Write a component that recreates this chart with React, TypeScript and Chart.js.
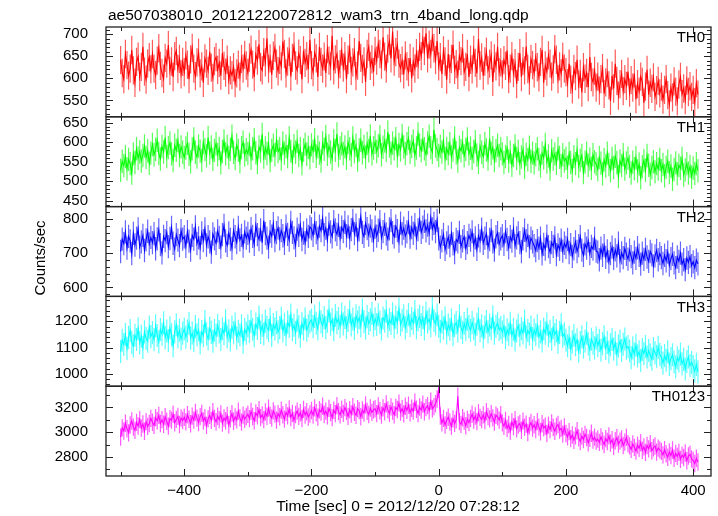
import { useEffect, useRef } from "react";
import { Chart, registerables } from "chart.js";

Chart.register(...registerables);

const TITLE = "ae507038010_20121220072812_wam3_trn_4band_long.qdp";
const X_TITLE = "Time [sec] 0 = 2012/12/20 07:28:12";
const Y_TITLE = "Counts/sec";

const T_START = -500;
const T_BIN = 2.5;

const panelNames = ["TH0", "TH1", "TH2", "TH3", "TH0123"];
const colors = ["#ff0000", "#00ff00", "#0000ff", "#00ffff", "#ff00ff"];
const errColors = [
  "rgba(255,0,0,0.65)",
  "rgba(0,255,0,0.65)",
  "rgba(0,0,255,0.6)",
  "rgba(0,255,255,0.65)",
  "rgba(255,0,255,0.65)",
];

const th0 = [
  641, 612, 598, 655, 630, 606, 622, 664, 618, 590, 637, 649, 603, 626, 671, 615, 597, 633, 648, 620,
  655, 622, 607, 640, 668, 628, 612, 599, 646, 633, 675, 617, 638, 603, 650, 662, 621, 644, 609, 637,
  614, 652, 631, 598, 643, 669, 622, 605, 636, 658, 611, 627, 590, 645, 633, 617, 660, 624, 601, 639,
  648, 619, 635, 606, 657, 628, 613, 642, 596, 618, 607, 625, 589, 611, 631, 604, 644, 622, 653, 629,
  612, 647, 665, 631, 603, 654, 640, 677, 625, 618, 659, 636, 690, 622, 645, 608, 651, 669, 633, 616,
  642, 627, 683, 655, 611, 638, 660, 604, 646, 672, 629, 618, 656, 641, 598, 663, 635, 650, 621, 687,
  630, 614, 658, 645, 603, 671, 637, 622, 649, 612, 666, 640, 627, 696, 618, 643, 655, 609, 632, 661,
  624, 650, 598, 642, 668, 617, 636, 659, 605, 629, 684, 646, 621, 638, 592, 655, 671, 628, 643, 614,
  662, 640, 678, 655, 631, 693, 649, 622, 667, 684, 645, 706, 638, 659, 676, 633, 623, 640, 609, 652,
  627, 614, 646, 600, 638, 622, 657, 631, 671, 650, 688, 662, 702, 645, 676, 655, 693, 668, 641, 684,
  627, 648, 610, 663, 638, 597, 655, 621, 644, 676, 619, 632, 608, 651, 639, 668, 614, 626, 655, 603,
  642, 620, 664, 635, 611, 689, 629, 647, 606, 638, 660, 618, 633, 652, 592, 645, 627, 671, 614, 636,
  609, 641, 628, 663, 598, 622, 650, 612, 634, 587, 626, 657, 603, 639, 618, 672, 621, 595, 644, 630,
  611, 648, 625, 602, 637, 664, 590, 629, 615, 652, 633, 604, 620, 666, 642, 598, 627, 611, 649, 622,
  614, 589, 633, 597, 575, 621, 605, 642, 586, 610, 568, 625, 599, 612, 580, 648, 603, 591, 617, 579,
  604, 572, 598, 623, 565, 591, 612, 584, 549, 606, 577, 633, 594, 561, 587, 610, 571, 598, 583, 615,
  568, 596, 579, 611, 553, 587, 570, 604, 592, 545, 581, 619, 563, 590, 576, 602, 558, 573, 594, 566,
  581, 552, 574, 598, 562, 541, 579, 557, 593, 570, 548, 586, 603, 564, 577, 551, 595, 569, 582, 558,
  574, 546, 589, 563,
];

const th1 = [
  528, 551, 540, 563, 532, 556, 545, 521, 570, 548, 583, 559, 575, 552, 566, 590, 561, 578, 546, 572,
  594, 568, 582, 605, 571, 557, 589, 575, 612, 563, 586, 598, 570, 553, 592, 579, 604, 566, 588, 574,
  561, 585, 597, 569, 550, 583, 608, 574, 562, 590, 577, 553, 599, 581, 565, 612, 572, 588, 556, 579,
  596, 568, 584, 547, 576, 603, 570, 589, 561, 582, 615, 574, 558, 593, 579, 550, 586, 600, 567, 581,
  571, 594, 559, 583, 606, 573, 548, 588, 577, 620, 562, 585, 571, 597, 553, 579, 592, 568, 605, 576,
  584, 557, 598, 572, 589, 563, 611, 577, 550, 591, 574, 602, 566, 583, 545, 580, 595, 569, 587, 560,
  593, 577, 606, 564, 588, 572, 552, 598, 582, 614, 569, 590, 575, 557, 603, 579, 621, 566, 585, 596,
  571, 588, 559, 600, 583, 567, 611, 576, 592, 554, 580, 605, 573, 589, 562, 597, 578, 616, 570, 585,
  600, 576, 591, 614, 568, 587, 603, 579, 626, 590, 572, 598, 583, 609, 565, 594, 580, 617, 588, 571,
  596, 610, 574, 589, 603, 567, 585, 621, 592, 578, 606, 583, 569, 598, 615, 586, 574, 632, 590, 581,
  566, 589, 575, 603, 558, 584, 571, 596, 562, 580, 611, 573, 552, 587, 578, 599, 565, 582, 608, 570,
  585, 559, 576, 601, 567, 548, 590, 574, 563, 596, 580, 557, 609, 571, 586, 553, 578, 592, 566, 583,
  570, 548, 563, 585, 552, 574, 541, 566, 590, 558, 577, 545, 562, 581, 536, 569, 555, 587, 551, 572,
  547, 568, 583, 556, 539, 572, 560, 594, 549, 565, 531, 578, 557, 570, 546, 583, 561, 540, 568, 552,
  559, 536, 571, 548, 527, 563, 545, 580, 538, 554, 566, 522, 549, 572, 541, 557, 533, 568, 550, 544,
  530, 561, 546, 519, 555, 539, 572, 543, 527, 558, 535, 564, 548, 512, 552, 540, 568, 531, 547, 559,
  538, 521, 549, 532, 560, 526, 544, 509, 537, 553, 528, 566, 541, 518, 535, 550, 524, 545, 531, 556,
  527, 543, 514, 536, 551, 522, 539, 505, 530, 547, 519, 541, 533, 558, 516, 529, 545, 521, 538, 511,
  534, 520, 545, 527,
];

const th2 = [
  705, 741, 728, 762, 715, 749, 736, 699, 758, 724, 744, 771, 718, 733, 752, 708, 739, 764, 727, 746,
  731, 757, 713, 742, 768, 725, 701, 749, 737, 760, 719, 743, 775, 729, 712, 754, 738, 722, 766, 741,
  748, 720, 763, 735, 709, 752, 741, 777, 728, 745, 716, 759, 737, 771, 724, 748, 733, 703, 756, 742,
  729, 765, 746, 718, 754, 781, 736, 723, 759, 740, 714, 767, 748, 731, 775, 739, 752, 721, 762, 744,
  758, 735, 772, 749, 726, 781, 754, 740, 768, 731, 795, 757, 744, 718, 763, 750, 786, 737, 760, 774,
  742, 766, 751, 729, 779, 755, 738, 790, 761, 745, 723, 770, 752, 783, 740, 759, 731, 768, 749, 777,
  771, 752, 788, 760, 743, 779, 766, 801, 754, 773, 739, 785, 762, 748, 792, 768, 755, 781, 744, 776,
  763, 790, 751, 777, 745, 769, 796, 757, 782, 740, 768, 806, 761, 749, 787, 772, 753, 779, 765, 738,
  776, 750, 767, 792, 745, 763, 784, 756, 741, 771, 795, 760, 748, 779, 766, 735, 788, 757, 773, 750,
  762, 789, 747, 775, 758, 783, 744, 769, 797, 761, 776, 793, 765, 782, 758, 804, 771, 787, 763, 796,
  742, 718, 736, 755, 711, 730, 747, 722, 758, 727, 702, 740, 733, 761, 719, 736, 748, 714, 731, 752,
  738, 762, 724, 745, 711, 751, 736, 770, 729, 744, 757, 718, 740, 766, 733, 709, 748, 760, 727, 742,
  751, 726, 763, 740, 716, 748, 735, 771, 722, 745, 759, 731, 705, 742, 767, 737, 752, 719, 744, 733,
  722, 708, 737, 715, 744, 698, 726, 712, 750, 719, 703, 731, 720, 745, 696, 724, 711, 738, 706, 729,
  717, 740, 702, 725, 691, 713, 733, 705, 722, 748, 709, 694, 727, 715, 736, 699, 720, 712, 743, 706,
  703, 681, 715, 694, 722, 688, 707, 675, 699, 718, 685, 710, 692, 729, 678, 701, 687, 714, 697, 683,
  709, 690, 672, 703, 685, 716, 694, 668, 700, 682, 711, 689, 676, 705, 695, 663, 692, 708, 681, 699,
  687, 670, 694, 678, 703, 665, 684, 697, 672, 658, 689, 676, 700, 668, 681, 652, 686, 673, 690, 664,
  675, 658, 680, 669,
];

const th3 = [
  1085, 1128, 1112, 1150, 1097, 1139, 1165, 1120, 1106, 1147, 1131, 1172, 1118, 1143, 1101, 1160, 1135, 1124, 1178, 1142,
  1157, 1130, 1183, 1146, 1122, 1169, 1151, 1194, 1138, 1163, 1127, 1175, 1149, 1106, 1160, 1187, 1142, 1166, 1133, 1155,
  1171, 1140, 1163, 1192, 1136, 1155, 1127, 1180, 1149, 1168, 1118, 1161, 1145, 1199, 1152, 1133, 1174, 1158, 1124, 1166,
  1147, 1185, 1160, 1131, 1172, 1153, 1203, 1141, 1164, 1129, 1178, 1157, 1190, 1136, 1162, 1148, 1183, 1121, 1169, 1155,
  1182, 1161, 1199, 1170, 1145, 1190, 1173, 1216, 1158, 1184, 1152, 1201, 1177, 1165, 1208, 1146, 1188, 1171, 1195, 1160,
  1176, 1213, 1163, 1189, 1150, 1197, 1181, 1224, 1168, 1185, 1157, 1204, 1179, 1143, 1192, 1171, 1210, 1166, 1183, 1198,
  1205, 1180, 1219, 1193, 1171, 1232, 1198, 1184, 1214, 1176, 1201, 1240, 1189, 1207, 1168, 1222, 1195, 1211, 1181, 1228,
  1190, 1215, 1176, 1203, 1236, 1186, 1209, 1173, 1221, 1197, 1214, 1182, 1243, 1199, 1174, 1218, 1192, 1206, 1230, 1185,
  1210, 1188, 1225, 1196, 1170, 1213, 1201, 1238, 1182, 1207, 1192, 1229, 1178, 1216, 1195, 1246, 1187, 1204, 1221, 1175,
  1200, 1226, 1184, 1211, 1193, 1237, 1176, 1205, 1219, 1188, 1214, 1171, 1232, 1197, 1209, 1183, 1250, 1203, 1190, 1224,
  1181, 1162, 1198, 1174, 1213, 1156, 1187, 1170, 1205, 1149, 1183, 1195, 1163, 1221, 1177, 1158, 1192, 1169, 1208, 1180,
  1166, 1195, 1172, 1151, 1189, 1210, 1164, 1183, 1141, 1178, 1199, 1160, 1186, 1172, 1217, 1155, 1181, 1193, 1168, 1176,
  1159, 1182, 1138, 1168, 1151, 1193, 1146, 1170, 1129, 1163, 1185, 1147, 1172, 1156, 1201, 1140, 1165, 1152, 1178, 1134,
  1167, 1149, 1183, 1141, 1160, 1125, 1171, 1155, 1190, 1145, 1162, 1132, 1176, 1150, 1164, 1121, 1158, 1187, 1143, 1153,
  1128, 1107, 1139, 1095, 1122, 1146, 1111, 1130, 1086, 1119, 1141, 1102, 1125, 1155, 1114, 1093, 1132, 1117, 1099, 1136,
  1108, 1127, 1090, 1115, 1141, 1097, 1120, 1083, 1111, 1131, 1094, 1118, 1075, 1106, 1125, 1089, 1113, 1133, 1098, 1104,
  1087, 1062, 1099, 1075, 1109, 1068, 1084, 1051, 1093, 1077, 1104, 1064, 1089, 1072, 1056, 1096, 1080, 1067, 1101, 1074,
  1063, 1041, 1070, 1052, 1084, 1036, 1058, 1073, 1045, 1027, 1061, 1049, 1075, 1038, 1055, 1019, 1047, 1064, 1032, 1044,
  1028, 1011, 1036, 1008,
];

const th0123 = [
  2960, 3035, 3010, 3072, 3028, 2995, 3058, 3090, 3041, 3015, 3079, 3050, 3102, 3034, 3066, 3008, 3085, 3047, 3070, 3112,
  3080, 3055, 3118, 3092, 3136, 3070, 3101, 3064, 3125, 3088, 3049, 3110, 3097, 3145, 3076, 3103, 3128, 3062, 3115, 3094,
  3121, 3083, 3142, 3105, 3068, 3130, 3098, 3160, 3114, 3077, 3126, 3152, 3090, 3118, 3055, 3108, 3137, 3095, 3166, 3112,
  3084, 3129, 3101, 3148, 3073, 3115, 3092, 3135, 3060, 3109, 3150, 3088, 3124, 3099, 3170, 3116, 3081, 3138, 3105, 3127,
  3145, 3110, 3168, 3127, 3092, 3155, 3133, 3182, 3118, 3140, 3101, 3163, 3129, 3194, 3137, 3115, 3172, 3146, 3098, 3150,
  3125, 3178, 3141, 3106, 3160, 3132, 3188, 3119, 3152, 3095, 3143, 3170, 3128, 3157, 3111, 3184, 3139, 3165, 3122, 3147,
  3175, 3138, 3196, 3157, 3122, 3181, 3163, 3209, 3145, 3170, 3132, 3192, 3158, 3118, 3177, 3150, 3214, 3166, 3140, 3185,
  3152, 3198, 3169, 3128, 3182, 3147, 3206, 3161, 3137, 3190, 3174, 3125, 3179, 3155, 3220, 3168, 3143, 3195, 3160, 3181,
  3189, 3150, 3212, 3173, 3138, 3196, 3165, 3228, 3180, 3152, 3204, 3170, 3141, 3199, 3183, 3235, 3162, 3190, 3148, 3209,
  3176, 3218, 3157, 3193, 3170, 3242, 3185, 3151, 3203, 3179, 3226, 3165, 3198, 3214, 3173, 3250, 3188, 3206, 3230, 3268,
  3345, 3130, 3075, 3112, 3058, 3096, 3121, 3082, 3047, 3108, 3071, 3099, 3290, 3085, 3063, 3117, 3090, 3052, 3104, 3078,
  3112, 3145, 3098, 3131, 3085, 3158, 3120, 3102, 3140, 3093, 3166, 3127, 3108, 3150, 3116, 3081, 3137, 3124, 3098, 3142,
  3075, 3048, 3096, 3031, 3062, 3010, 3083, 3045, 3102, 3027, 3058, 3071, 3016, 3089, 3040, 3065, 2998, 3052, 3078, 3033,
  3060, 3022, 3085, 3041, 3004, 3068, 3035, 3049, 2990, 3057, 3021, 3074, 3038, 3008, 3046, 3062, 3017, 3031, 2985, 3043,
  2990, 2962, 3005, 2948, 2978, 2935, 2970, 3012, 2954, 2925, 2968, 2941, 2983, 2957, 2915, 2950, 2992, 2937, 2960, 2928,
  2945, 2918, 2962, 2930, 2901, 2948, 2925, 2970, 2912, 2939, 2886, 2931, 2955, 2904, 2928, 2946, 2893, 2920, 2958, 2907,
  2890, 2862, 2905, 2878, 2848, 2896, 2870, 2915, 2855, 2882, 2837, 2893, 2866, 2908, 2851, 2875, 2889, 2840, 2872, 2858,
  2846, 2817, 2860, 2825, 2798, 2842, 2812, 2857, 2790, 2829, 2805, 2838, 2781, 2815, 2796, 2832, 2770, 2808, 2822, 2785,
  2772, 2748, 2790, 2760,
];

const series = [th0, th1, th2, th3, th0123];
const errors = [32, 30, 34, 44, 70];

const yMin = [513, 435, 574, 953, 2647];
const yMax = [716, 665, 836, 1295, 3371];
const yStep = [50, 50, 100, 100, 200];
const yMinor = [10, 10, 20, 20, 100];

const X_MIN = -523;
const X_MAX = 428;
const X_MAJOR = 200;
const X_MINOR = 100;

const FONT = '"Liberation Sans", Arial, Helvetica, sans-serif';

const timeOf = (k: number) => T_START + k * T_BIN;
const fmt = (v: number) => (v < 0 ? "\u2212" + Math.abs(v) : String(v));

const panelPlugin = {
  id: "panels",
  beforeDatasetDraw(chart: any, args: any) {
    const i = args.index;
    const ys = chart.scales["y" + i];
    const xs = chart.scales.x;
    const ca = chart.chartArea;
    const ctx = chart.ctx;
    ctx.save();
    ctx.beginPath();
    ctx.rect(ca.left, ys.top, ca.right - ca.left, ys.bottom - ys.top);
    ctx.clip();
    ctx.strokeStyle = errColors[i];
    ctx.lineWidth = 1.2;
    ctx.beginPath();
    series[i].forEach((v, k) => {
      const px = xs.getPixelForValue(timeOf(k));
      ctx.moveTo(px, ys.getPixelForValue(v + errors[i]));
      ctx.lineTo(px, ys.getPixelForValue(v - errors[i]));
    });
    ctx.stroke();
  },
  afterDatasetDraw(chart: any) {
    chart.ctx.restore();
  },
  afterDraw(chart: any) {
    const ctx = chart.ctx;
    const ca = chart.chartArea;
    const xs = chart.scales.x;
    ctx.save();
    ctx.strokeStyle = "#222";
    ctx.fillStyle = "#000";
    for (let i = 0; i < series.length; i++) {
      const ys = chart.scales["y" + i];
      const top = ys.top;
      const bot = ys.bottom;
      ctx.lineWidth = 1;
      ctx.beginPath();
      for (let v = Math.ceil(yMin[i] / yMinor[i]) * yMinor[i]; v <= yMax[i]; v += yMinor[i]) {
        const py = Math.round(ys.getPixelForValue(v)) + 0.5;
        const len = v % yStep[i] === 0 ? 7 : 4;
        ctx.moveTo(ca.left, py);
        ctx.lineTo(ca.left + len, py);
        ctx.moveTo(ca.right, py);
        ctx.lineTo(ca.right - len, py);
      }
      for (let t = Math.ceil(X_MIN / X_MINOR) * X_MINOR; t <= X_MAX; t += X_MINOR) {
        const px = Math.round(xs.getPixelForValue(t)) + 0.5;
        const len = t % X_MAJOR === 0 ? 7 : 4;
        ctx.moveTo(px, top);
        ctx.lineTo(px, top + len);
        ctx.moveTo(px, bot);
        ctx.lineTo(px, bot - len);
      }
      ctx.stroke();
      ctx.lineWidth = 1.3;
      ctx.strokeRect(ca.left, top, ca.right - ca.left, bot - top);
      ctx.font = "15px " + FONT;
      ctx.textAlign = "right";
      ctx.textBaseline = "middle";
      ctx.fillText(panelNames[i], 705, top + 11);
    }
    ctx.font = "15.5px " + FONT;
    ctx.textAlign = "left";
    ctx.textBaseline = "alphabetic";
    ctx.fillText(TITLE, 108, 20);
    ctx.textAlign = "center";
    ctx.textBaseline = "middle";
    ctx.fillText(X_TITLE, 398, 507);
    ctx.font = "15px " + FONT;
    ctx.translate(41, 258);
    ctx.rotate(-Math.PI / 2);
    ctx.fillText(Y_TITLE, 0, 0);
    ctx.restore();
  },
};

export default function App() {
  const ref = useRef<HTMLCanvasElement | null>(null);
  useEffect(() => {
    if (!ref.current) return;
    const scales: any = {
      x: {
        type: "linear",
        position: "bottom",
        min: X_MIN,
        max: X_MAX,
        grid: { display: false },
        border: { display: false },
        ticks: {
          stepSize: X_MAJOR,
          autoSkip: false,
          maxRotation: 0,
          includeBounds: false,
          color: "#000",
          font: { size: 15, family: FONT },
          padding: -2,
          callback: (v: any) => (Number(v) % X_MAJOR === 0 ? fmt(Number(v)) : ""),
        },
        afterFit: (s: any) => {
          s.height = 40;
        },
      },
    };
    for (let i = series.length - 1; i >= 0; i--) {
      scales["y" + i] = {
        type: "linear",
        position: "left",
        stack: "panels",
        stackWeight: 1,
        min: yMin[i],
        max: yMax[i],
        grid: { display: false },
        border: { display: false },
        ticks: {
          stepSize: yStep[i],
          includeBounds: false,
          autoSkip: false,
          color: "#000",
          font: { size: 15, family: FONT },
          padding: 10,
          callback: (v: any) => fmt(Number(v)),
        },
        afterFit: (s: any) => {
          s.width = 106;
        },
      };
    }
    const chart = new Chart(ref.current, {
      type: "line",
      data: {
        datasets: series.map((vals, i) => ({
          label: panelNames[i],
          data: vals.map((v, k) => ({ x: timeOf(k), y: v })),
          xAxisID: "x",
          yAxisID: "y" + i,
          borderColor: colors[i],
          backgroundColor: colors[i],
          borderWidth: 1.1,
          pointRadius: 0,
          tension: 0,
        })),
      },
      options: {
        responsive: false,
        animation: false,
        events: [],
        layout: { padding: { top: 27, right: 7, left: 0, bottom: 0 } },
        plugins: { legend: { display: false }, tooltip: { enabled: false }, title: { display: false } },
        scales,
      },
      plugins: [panelPlugin],
    });
    return () => chart.destroy();
  }, []);
  return (
    <canvas
      ref={ref}
      width={718}
      height={516}
      style={{ position: "absolute", left: 0, top: 0, width: 718, height: 516 }}
    />
  );
}
